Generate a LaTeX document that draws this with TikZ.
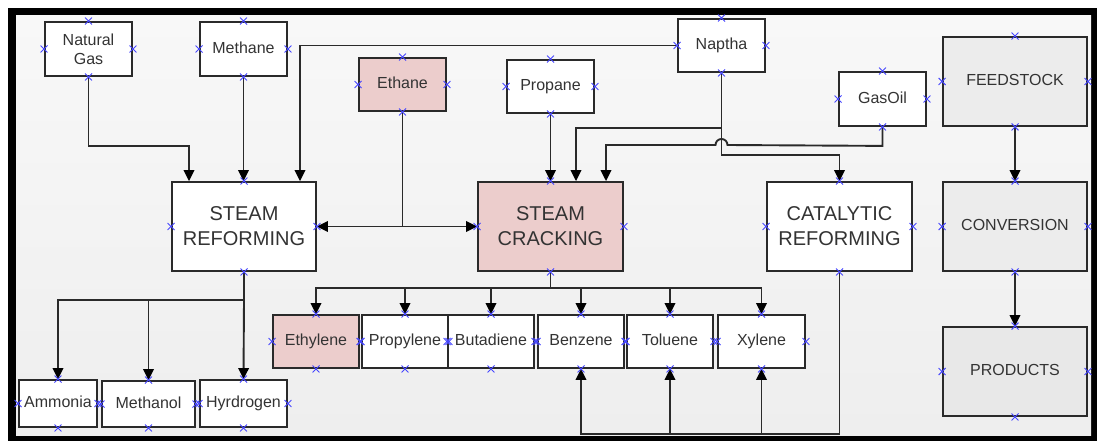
\documentclass[tikz,border=0pt]{standalone}
\usepackage{fontspec}
\setmainfont{Liberation Sans}
\usetikzlibrary{arrows.meta,shapes.misc}
\definecolor{ln}{HTML}{2A2A2A}
\definecolor{txt}{HTML}{333333}
\definecolor{pinkf}{RGB}{236,205,204}
\definecolor{grayf}{RGB}{236,236,236}
\definecolor{bgtop}{RGB}{248,248,248}
\definecolor{bgbot}{RGB}{238,238,238}
\definecolor{xblue}{RGB}{70,70,255}
\begin{document}
\begin{tikzpicture}[x=1pt,y=-1pt,
  box/.style={draw=ln,line width=1.8pt,fill=white,inner sep=0pt,align=center,text=txt,font=\fontsize{16}{19}\selectfont},
  one/.style={text height=11.5pt,text depth=3.4pt},
  bigbox/.style={box,minimum width=144pt,minimum height=89pt,font=\fontsize{20}{25}\selectfont},
  graybox/.style={box,one,fill=grayf,minimum width=144pt,minimum height=89pt},
  sm/.style={box,minimum width=87pt,minimum height=53pt},
  prod/.style={box,one,minimum width=86pt,minimum height=53pt},
  conn/.style={draw=ln,line width=1.9pt},
  arr/.style={conn,-{Triangle[length=11pt,width=10.5pt,color=black]}},
  darr/.style={conn,{Triangle[length=11pt,width=10.5pt,color=black]}-{Triangle[length=11pt,width=10.5pt,color=black]}},
  xmk/.style={cross out,draw=xblue,line width=0.9pt,minimum size=6pt,inner sep=0pt}
]
\useasboundingbox (0,0) rectangle (1097,441);
\fill[white] (0,0) rectangle (1097,441);
\fill[black] (8,8) rectangle (1097,441);
\shade[top color=bgtop,bottom color=bgbot] (16,16) rectangle (1091,435);

% feedstocks
\node[sm,minimum height=54pt] (ng) at (88.5,49) {Natural\\Gas};
\node[sm,one,minimum height=54pt] (me) at (243.5,49) {Methane};
\node[sm,one,fill=pinkf] (et) at (402.5,84.5) {Ethane};
\node[sm,one] (pr) at (550.5,86.5) {Propane};
\node[sm,one] (np) at (721.5,45.5) {Naptha};
\node[sm,one,minimum height=54pt] (go) at (882.5,99) {GasOil};

% processes
\node[bigbox] (sr) at (244,226.5) {STEAM\\REFORMING};
\node[bigbox,fill=pinkf,minimum width=145pt] (sc) at (550.5,226.5) {STEAM\\CRACKING};
\node[bigbox,minimum width=145pt] (cr) at (839.5,226.5) {CATALYTIC\\REFORMING};

% legend
\node[graybox] (fs) at (1015,81.5) {FEEDSTOCK};
\node[graybox] (cv) at (1015,226.5) {CONVERSION};
\node[graybox,fill={rgb,255:red,232;green,232;blue,232}] (pd) at (1015,371.5) {PRODUCTS};

% products
\node[prod,fill=pinkf] (ey) at (316,341.5) {Ethylene};
\node[prod] (py) at (405,341.5) {Propylene};
\node[prod] (bd) at (491,341.5) {Butadiene};
\node[prod] (bz) at (581,341.5) {Benzene};
\node[prod] (tl) at (670,341.5) {Toluene};
\node[prod,minimum width=87pt] (xy) at (761.5,341.5) {Xylene};
\node[box,one,minimum width=78pt,minimum height=47pt] (am) at (58,403.5) {Ammonia};
\node[box,one,minimum width=93pt,minimum height=46pt] (mt) at (148.5,404) {Methanol};
\node[box,one,minimum width=87pt,minimum height=47pt] (hy) at (243.5,403.5) {Hyrdrogen};

% connectors into steam reforming
\draw[arr] (ng.south) -- ++(0,69) -| ([xshift=-55pt]sr.north);
\draw[arr] (me.south) -- (me.south |- sr.north);
\draw[arr] (np.west) -| ([xshift=56pt]sr.north);

% ethane
\draw[darr] (sr.east) -- (sc.west);
\draw[conn] (et.south) -- (et.south |- sr.east);

% into steam cracking
\draw[arr] (pr.south) -- (sc.north);
\draw[arr] (np.south) ++(0,55) -| ([xshift=25.5pt]sc.north);
\draw[arr] (go.south) -- ++(0,19) -- (727.5,145) arc[start angle=0,end angle=180,radius=6pt] -| ([xshift=55.5pt]sc.north);
\draw[arr] (np.south) -- ++(0,82) -| (cr.north);

% steam reforming outputs
\draw[conn] (sr.south) -- ++(0,28) coordinate (srb);
\draw[arr] (srb) -| (am.north);
\draw[arr] (srb) -| (mt.north);
\draw[arr] (srb) -- (hy.north);

% steam cracking outputs
\draw[conn] (sc.south) -- ++(0,16) coordinate (scb);
\foreach \p in {ey,py,bd,bz,tl,xy} {\draw[arr] (scb) -| (\p.north);}

% catalytic reforming outputs
\draw[conn] (cr.south) -- ++(0,162) coordinate (crb);
\foreach \p in {bz,tl,xy} {\draw[arr] (crb) -| (\p.south);}

% legend arrows
\draw[arr] (fs.south) -- (cv.north);
\draw[arr] (cv.south) -- (pd.north);

% connection point markers
\foreach \n in {ng,me,et,pr,np,go,fs,sr,sc,cr,cv,pd,ey,py,bd,bz,tl,xy,am,mt,hy} {
  \foreach \a in {north,south,east,west} {\node[xmk] at (\n.\a) {};}
}
\end{tikzpicture}
\end{document}
